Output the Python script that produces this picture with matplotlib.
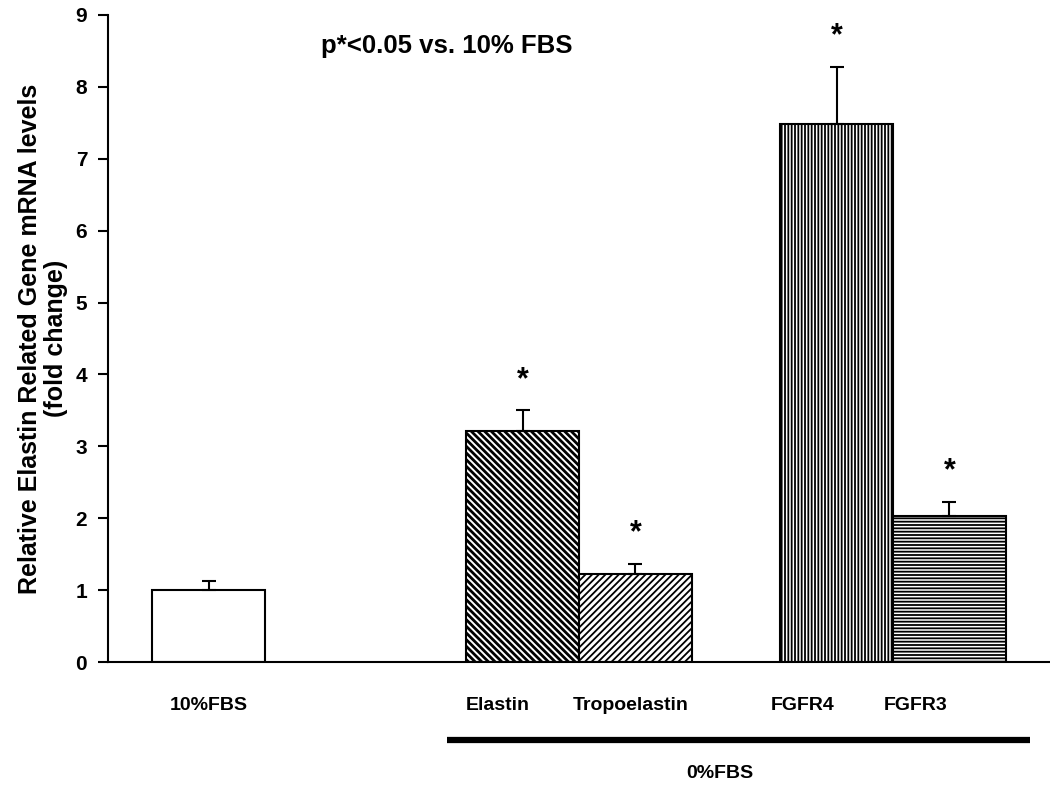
import matplotlib
matplotlib.use("Agg")
import matplotlib.pyplot as plt
from matplotlib import font_manager

# data
groups = ["10%FBS", "Elastin", "Tropoelastin", "FGFR4", "FGFR3"]
means = [1.00, 3.22, 1.23, 7.48, 2.03]
errs = [0.12, 0.28, 0.14, 0.80, 0.20]
signif = [False, True, True, True, True]
y_ticks = [0, 1, 2, 3, 4, 5, 6, 7, 8, 9]

# layout, in bar-width units
pos = [0.89, 3.67, 4.67, 6.45, 7.45]
label_pos = [0.89, 3.45, 4.63, 6.15, 7.15]
hatches = [None, "\\\\\\\\\\", "/////", "|||||", "-----"]
hatch_lw = [1.0, 2.0, 1.3, 1.3, 1.3]

names = {f.name for f in font_manager.fontManager.ttflist}
narrow = "Liberation Sans Narrow" if "Liberation Sans Narrow" in names else "Liberation Sans"
plt.rcParams["font.family"] = ["Liberation Sans", "DejaVu Sans"]

fig = plt.figure(figsize=(10.5, 7.87), dpi=100)
ax = fig.add_axes([108 / 1050, 1 - 662 / 787, 1 - 108 / 1050, (662 - 15) / 787])

for i in range(len(groups)):
    b = ax.bar(pos[i], means[i], width=1.0, color="white", edgecolor="black",
               linewidth=1.5, hatch=hatches[i], zorder=2)
    for p in b:
        if hasattr(p, "set_hatch_linewidth"):
            p.set_hatch_linewidth(hatch_lw[i])
    ax.errorbar(pos[i], means[i], yerr=[[0], [errs[i]]], fmt="none",
                ecolor="black", elinewidth=1.5, capsize=5, capthick=1.5, zorder=3)
    if signif[i]:
        ax.text(pos[i], means[i] + errs[i] + 0.42, "*", ha="center", va="center",
                fontsize=22, fontweight="bold")

ax.set_xlim(0, 8.34)
ax.set_ylim(0, 9)
ax.set_yticks(y_ticks)
ax.set_yticklabels([str(t) for t in y_ticks], fontsize=15, fontweight="bold")
ax.tick_params(axis="y", direction="out", length=7, width=1.5, pad=8)
ax.set_xticks([])
ax.spines["top"].set_visible(False)
ax.spines["right"].set_visible(False)
ax.spines["left"].set_linewidth(1.5)
ax.spines["bottom"].set_linewidth(1.5)

ax.set_ylabel("Relative Elastin Related Gene mRNA levels\n(fold change)",
              fontsize=18, fontweight="bold", labelpad=5, linespacing=1.15)

for i in range(len(groups)):
    ax.text(label_pos[i], -0.6, groups[i], ha="center", va="center",
            fontsize=14, fontweight="bold", family=[narrow, "DejaVu Sans"])

# group bar under the 0% FBS conditions
ax.plot([3.0, 8.16], [-1.08, -1.08], color="black", lw=4.5, clip_on=False,
        solid_capstyle="butt")
ax.text(5.42, -1.55, "0%FBS", ha="center", va="center", fontsize=14,
        fontweight="bold", family=[narrow, "DejaVu Sans"])

ax.text(1.89, 8.57, "p*<0.05 vs. 10% FBS", ha="left", va="center",
        fontsize=18.5, fontweight="bold")

fig.savefig("out.png", dpi=100)
